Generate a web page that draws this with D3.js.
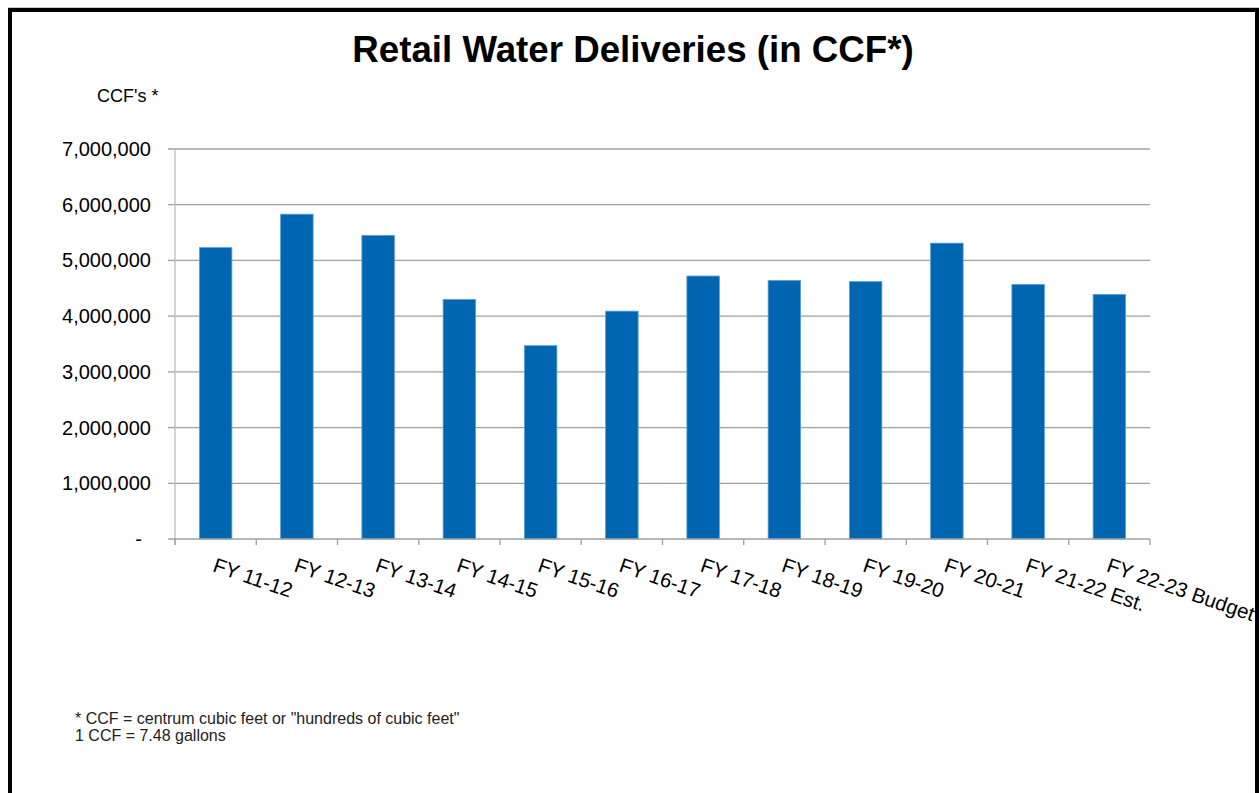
<!DOCTYPE html>
<html>
<head>
<meta charset="utf-8">
<script src="https://cdn.jsdelivr.net/npm/d3@7"></script>
<style>
  html, body { margin: 0; padding: 0; background: #fff; }
  svg { display: block; }
  text { font-family: "Liberation Sans", Arial, sans-serif; }
</style>
</head>
<body>
<svg id="chart" width="1259" height="793"></svg>
<script>
const categories = ["FY 11-12","FY 12-13","FY 13-14","FY 14-15","FY 15-16","FY 16-17","FY 17-18","FY 18-19","FY 19-20","FY 20-21","FY 21-22 Est.","FY 22-23 Budget"];
const deliveries = [5230000, 5830000, 5450000, 4300000, 3470000, 4090000, 4720000, 4640000, 4620000, 5310000, 4570000, 4390000];
const yTicks = [0, 1000000, 2000000, 3000000, 4000000, 5000000, 6000000, 7000000];
const titleText = "Retail Water Deliveries (in CCF*)";
const yUnitLabel = "CCF's *";
const footnotes = ["* CCF = centrum cubic feet or \"hundreds of cubic feet\"", "1 CCF = 7.48 gallons"];

const svg = d3.select("#chart");
const W = 1259, H = 793;
const plot = { left: 175, right: 1150, top: 149, bottom: 539 };

// frame
svg.append("line").attr("x1", 8).attr("x2", W).attr("y1", 7.5).attr("y2", 7.5)
  .attr("stroke", "#c8c8c8").attr("stroke-width", 1);
svg.append("path")
  .attr("d", `M10,${H} L10,10 L1257,10 L1257,${H}`)
  .attr("fill", "none").attr("stroke", "#000").attr("stroke-width", 4);

const x = d3.scaleBand().domain(categories).range([plot.left, plot.right]).paddingInner(0.6).paddingOuter(0.3);
const xOuter = d3.scaleBand().domain(categories).range([plot.left, plot.right]);
const y = d3.scaleLinear().domain([0, 7000000]).range([plot.bottom, plot.top]);

// gridlines
svg.append("g").selectAll("line").data(yTicks.filter(d => d > 0)).join("line")
  .attr("x1", plot.left - 7).attr("x2", plot.right)
  .attr("y1", d => y(d)).attr("y2", d => y(d))
  .attr("stroke", "#a0a0a0").attr("stroke-width", 1.3);

// y axis line
svg.append("line").attr("x1", plot.left).attr("x2", plot.left)
  .attr("y1", plot.top).attr("y2", plot.bottom + 6)
  .attr("stroke", "#bdbdbd").attr("stroke-width", 1.3);

// bars
svg.append("g").selectAll("rect").data(deliveries).join("rect")
  .attr("x", (d, i) => x(categories[i]))
  .attr("width", x.bandwidth())
  .attr("y", d => y(d))
  .attr("height", d => y(0) - y(d))
  .attr("fill", "#0066B1")
  .attr("stroke", "#5a9fd8").attr("stroke-width", 0.8);

// x axis line & ticks
svg.append("line").attr("x1", plot.left - 7).attr("x2", plot.right)
  .attr("y1", plot.bottom).attr("y2", plot.bottom)
  .attr("stroke", "#a0a0a0").attr("stroke-width", 1.3);
const bounds = categories.map(c => xOuter(c)).concat([plot.right]);
svg.append("g").selectAll("line").data(bounds).join("line")
  .attr("x1", d => d).attr("x2", d => d)
  .attr("y1", plot.bottom).attr("y2", plot.bottom + 6)
  .attr("stroke", "#a0a0a0").attr("stroke-width", 1.3);

// y tick labels
const fmt = d3.format(",");
svg.append("g").selectAll("text").data(yTicks).join("text")
  .attr("x", 151).attr("y", d => y(d))
  .attr("dy", "0.35em")
  .attr("text-anchor", "end")
  .attr("font-size", 20)
  .attr("fill", "#000")
  .text(d => d === 0 ? "-" : fmt(d))
  .attr("dx", d => d === 0 ? -9 : 0);

// x labels
svg.append("g").selectAll("text").data(categories).join("text")
  .attr("transform", d => `translate(${xOuter(d) + xOuter.bandwidth() / 2 - 4},571) rotate(19)`)
  .attr("font-size", 20.5)
  .attr("fill", "#000")
  .text(d => d);

// title
svg.append("text").attr("x", 633).attr("y", 62)
  .attr("text-anchor", "middle")
  .attr("font-size", 36.7).attr("font-weight", "bold")
  .text(titleText);

// unit label
svg.append("text").attr("x", 97).attr("y", 102)
  .attr("font-family", "Lato, 'Liberation Sans', sans-serif")
  .attr("font-size", 18)
  .text(yUnitLabel);

// footnotes
svg.append("g").selectAll("text").data(footnotes).join("text")
  .attr("x", 75).attr("y", (d, i) => 724 + i * 17)
  .attr("font-size", 16)
  .attr("fill", "#222")
  .text(d => d);
</script>
</body>
</html>
